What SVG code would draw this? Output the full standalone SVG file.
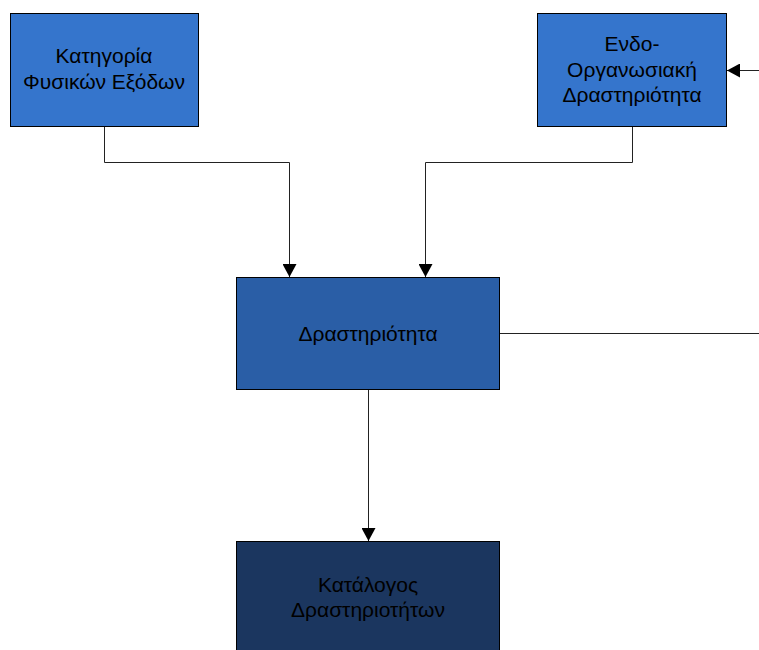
<svg xmlns="http://www.w3.org/2000/svg" width="759" height="650" viewBox="0 0 759 650">
<style>
.box{stroke:#000;stroke-width:1}
.t{font-family:"Liberation Sans",Arial,sans-serif;font-size:21px;fill:#000;text-anchor:middle}
.c{fill:none;stroke:#222;stroke-width:1}
</style>
<defs>
<marker id="ah" markerWidth="13" markerHeight="14" refX="13" refY="7" orient="auto" markerUnits="userSpaceOnUse">
<path d="M0,0 L13,7 L0,14 Z" fill="#000"/>
</marker>
</defs>
<rect width="759" height="650" fill="#fff"/>
<g id="n1"><rect class="box" x="10.5" y="13.5" width="188" height="113" fill="#3575cc"/>
<text class="t" x="104" y="63">Κατηγορία</text><text class="t" x="104" y="89">Φυσικών Εξόδων</text></g>
<g id="n2"><rect class="box" x="537.5" y="13.5" width="189" height="113" fill="#3575cc"/>
<text class="t" x="632" y="51">Ενδο-</text><text class="t" x="632" y="77">Οργανωσιακή</text><text class="t" x="632" y="102">Δραστηριότητα</text></g>
<g id="n3"><rect class="box" x="236.5" y="277.5" width="263" height="112" fill="#2a5ea6"/>
<text class="t" x="368" y="341">Δραστηριότητα</text></g>
<g id="n4"><rect class="box" x="236.5" y="541.5" width="263" height="120" fill="#1b365f"/>
<text class="t" x="368" y="592">Κατάλογος</text><text class="t" x="368" y="617">Δραστηριοτήτων</text></g>
<g id="connectors">
<path class="c" d="M104.5,127 V162.5 H289.5 V277" marker-end="url(#ah)"/>
<path class="c" d="M632.5,127 V162.5 H425.5 V277" marker-end="url(#ah)"/>
<path class="c" d="M759,70.5 H727" marker-end="url(#ah)"/>
<path class="c" d="M500,333.5 H759"/>
<path class="c" d="M368.5,390 V541" marker-end="url(#ah)"/>
</g>
</svg>
